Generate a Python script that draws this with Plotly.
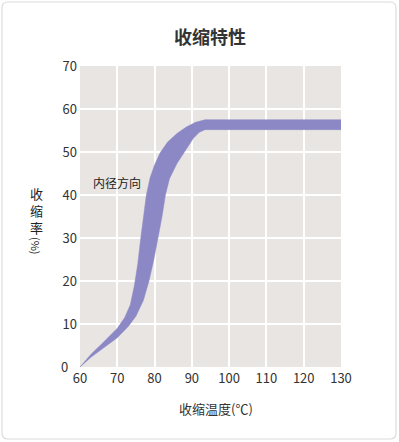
import plotly.graph_objects as go

# Upper (left) edge of band
upper_x = [60, 63, 66, 68, 70, 72, 73.5, 74.6, 75.5, 76.3, 77, 77.8, 78.8, 80, 81.5, 83.5, 86, 88.5, 91, 93.5, 130]
upper_y = [0, 3.0, 5.5, 7.2, 9.0, 11.5, 14.5, 19, 24, 30, 35, 40, 44, 47, 49.8, 52.3, 54.3, 55.8, 56.9, 57.5, 57.5]
# Lower (right) edge of band
lower_x = [60, 63, 66, 70, 73, 75, 77, 78.5, 79.8, 81, 82, 82.9, 84, 86, 88.1, 90.4, 92, 93.5, 130]
lower_y = [0, 2.3, 4.3, 6.8, 9.5, 11.8, 15.5, 20, 25, 30, 35, 40, 43.8, 47.3, 50.2, 53.2, 54.6, 55.2, 55.2]

x_ticks = [60, 70, 80, 90, 100, 110, 120, 130]
y_ticks = [0, 10, 20, 30, 40, 50, 60, 70]
y_ticktext = ["", "10", "20", "30", "40", "50", "60", "70"]  # "0" placed separately

FONT = "Noto Sans CJK SC"
TXT = "#333333"
BAND = "#8b88c5"

fig = go.Figure()
fig.add_trace(go.Scatter(
    x=upper_x + lower_x[::-1],
    y=upper_y + lower_y[::-1],
    fill="toself", mode="lines",
    line=dict(width=0.5, color=BAND),
    fillcolor=BAND,
    hoverinfo="skip", showlegend=False,
))

W, H = 399, 442
L, R, T, B = 80, 58, 66, 75
pw, ph = W - L - R, H - T - B

def px(xp):
    return (xp - L) / pw

def py(yp):
    return (H - B - yp) / ph

r = 6
x0, x1, y0, y1 = 2, 396, 2, 439
path = (f"M {px(x0+r)},{py(y0)} L {px(x1-r)},{py(y0)} Q {px(x1)},{py(y0)} {px(x1)},{py(y0+r)} "
        f"L {px(x1)},{py(y1-r)} Q {px(x1)},{py(y1)} {px(x1-r)},{py(y1)} "
        f"L {px(x0+r)},{py(y1)} Q {px(x0)},{py(y1)} {px(x0)},{py(y1-r)} "
        f"L {px(x0)},{py(y0+r)} Q {px(x0)},{py(y0)} {px(x0+r)},{py(y0)} Z")

def ann(x, y, text, size, color=TXT, **kw):
    d = dict(x=px(x), y=py(y), xref="paper", yref="paper", text=text, showarrow=False,
             xanchor="center", yanchor="middle", font=dict(family=FONT, size=size, color=color))
    d.update(kw)
    return d

annotations = [
    dict(x=69.9, y=43, xref="x", yref="y", text="内径方向", showarrow=False,
         xanchor="center", yanchor="middle",
         font=dict(family=FONT, size=12, color="#222222")),
    ann(210, 36, "<b>收缩特性</b>", 18),
    ann(216, 408, "收缩温度(℃)", 13),
    ann(36, 210, "收<br>缩<br>率", 13, "#222222"),
    ann(36, 246, "(%)", 11, "#222222", textangle=90),
    ann(64.5, 366, str(y_ticks[0]), 13),
]

fig.update_layout(
    width=W, height=H,
    margin=dict(l=L, r=R, t=T, b=B),
    paper_bgcolor="white",
    plot_bgcolor="#e8e5e2",
    font=dict(family=FONT, size=13, color=TXT),
    xaxis=dict(range=[60, 130], tickvals=x_ticks, showgrid=True, gridcolor="white", gridwidth=1.5,
               zeroline=False, showline=False, ticks="", ticklabelstandoff=2,
               tickfont=dict(size=13, color=TXT)),
    yaxis=dict(range=[0, 70], tickvals=y_ticks, ticktext=y_ticktext, showgrid=True,
               gridcolor="white", gridwidth=1.5,
               zeroline=False, showline=False, ticks="", ticklabelstandoff=2,
               tickfont=dict(size=13, color=TXT)),
    annotations=annotations,
    shapes=[dict(type="path", path=path, xref="paper", yref="paper",
                 line=dict(color="#dcdcdc", width=1.2), layer="below")],
)

fig.write_html("out.html", config={"displayModeBar": False},
               post_script="document.body.style.margin='0';")
